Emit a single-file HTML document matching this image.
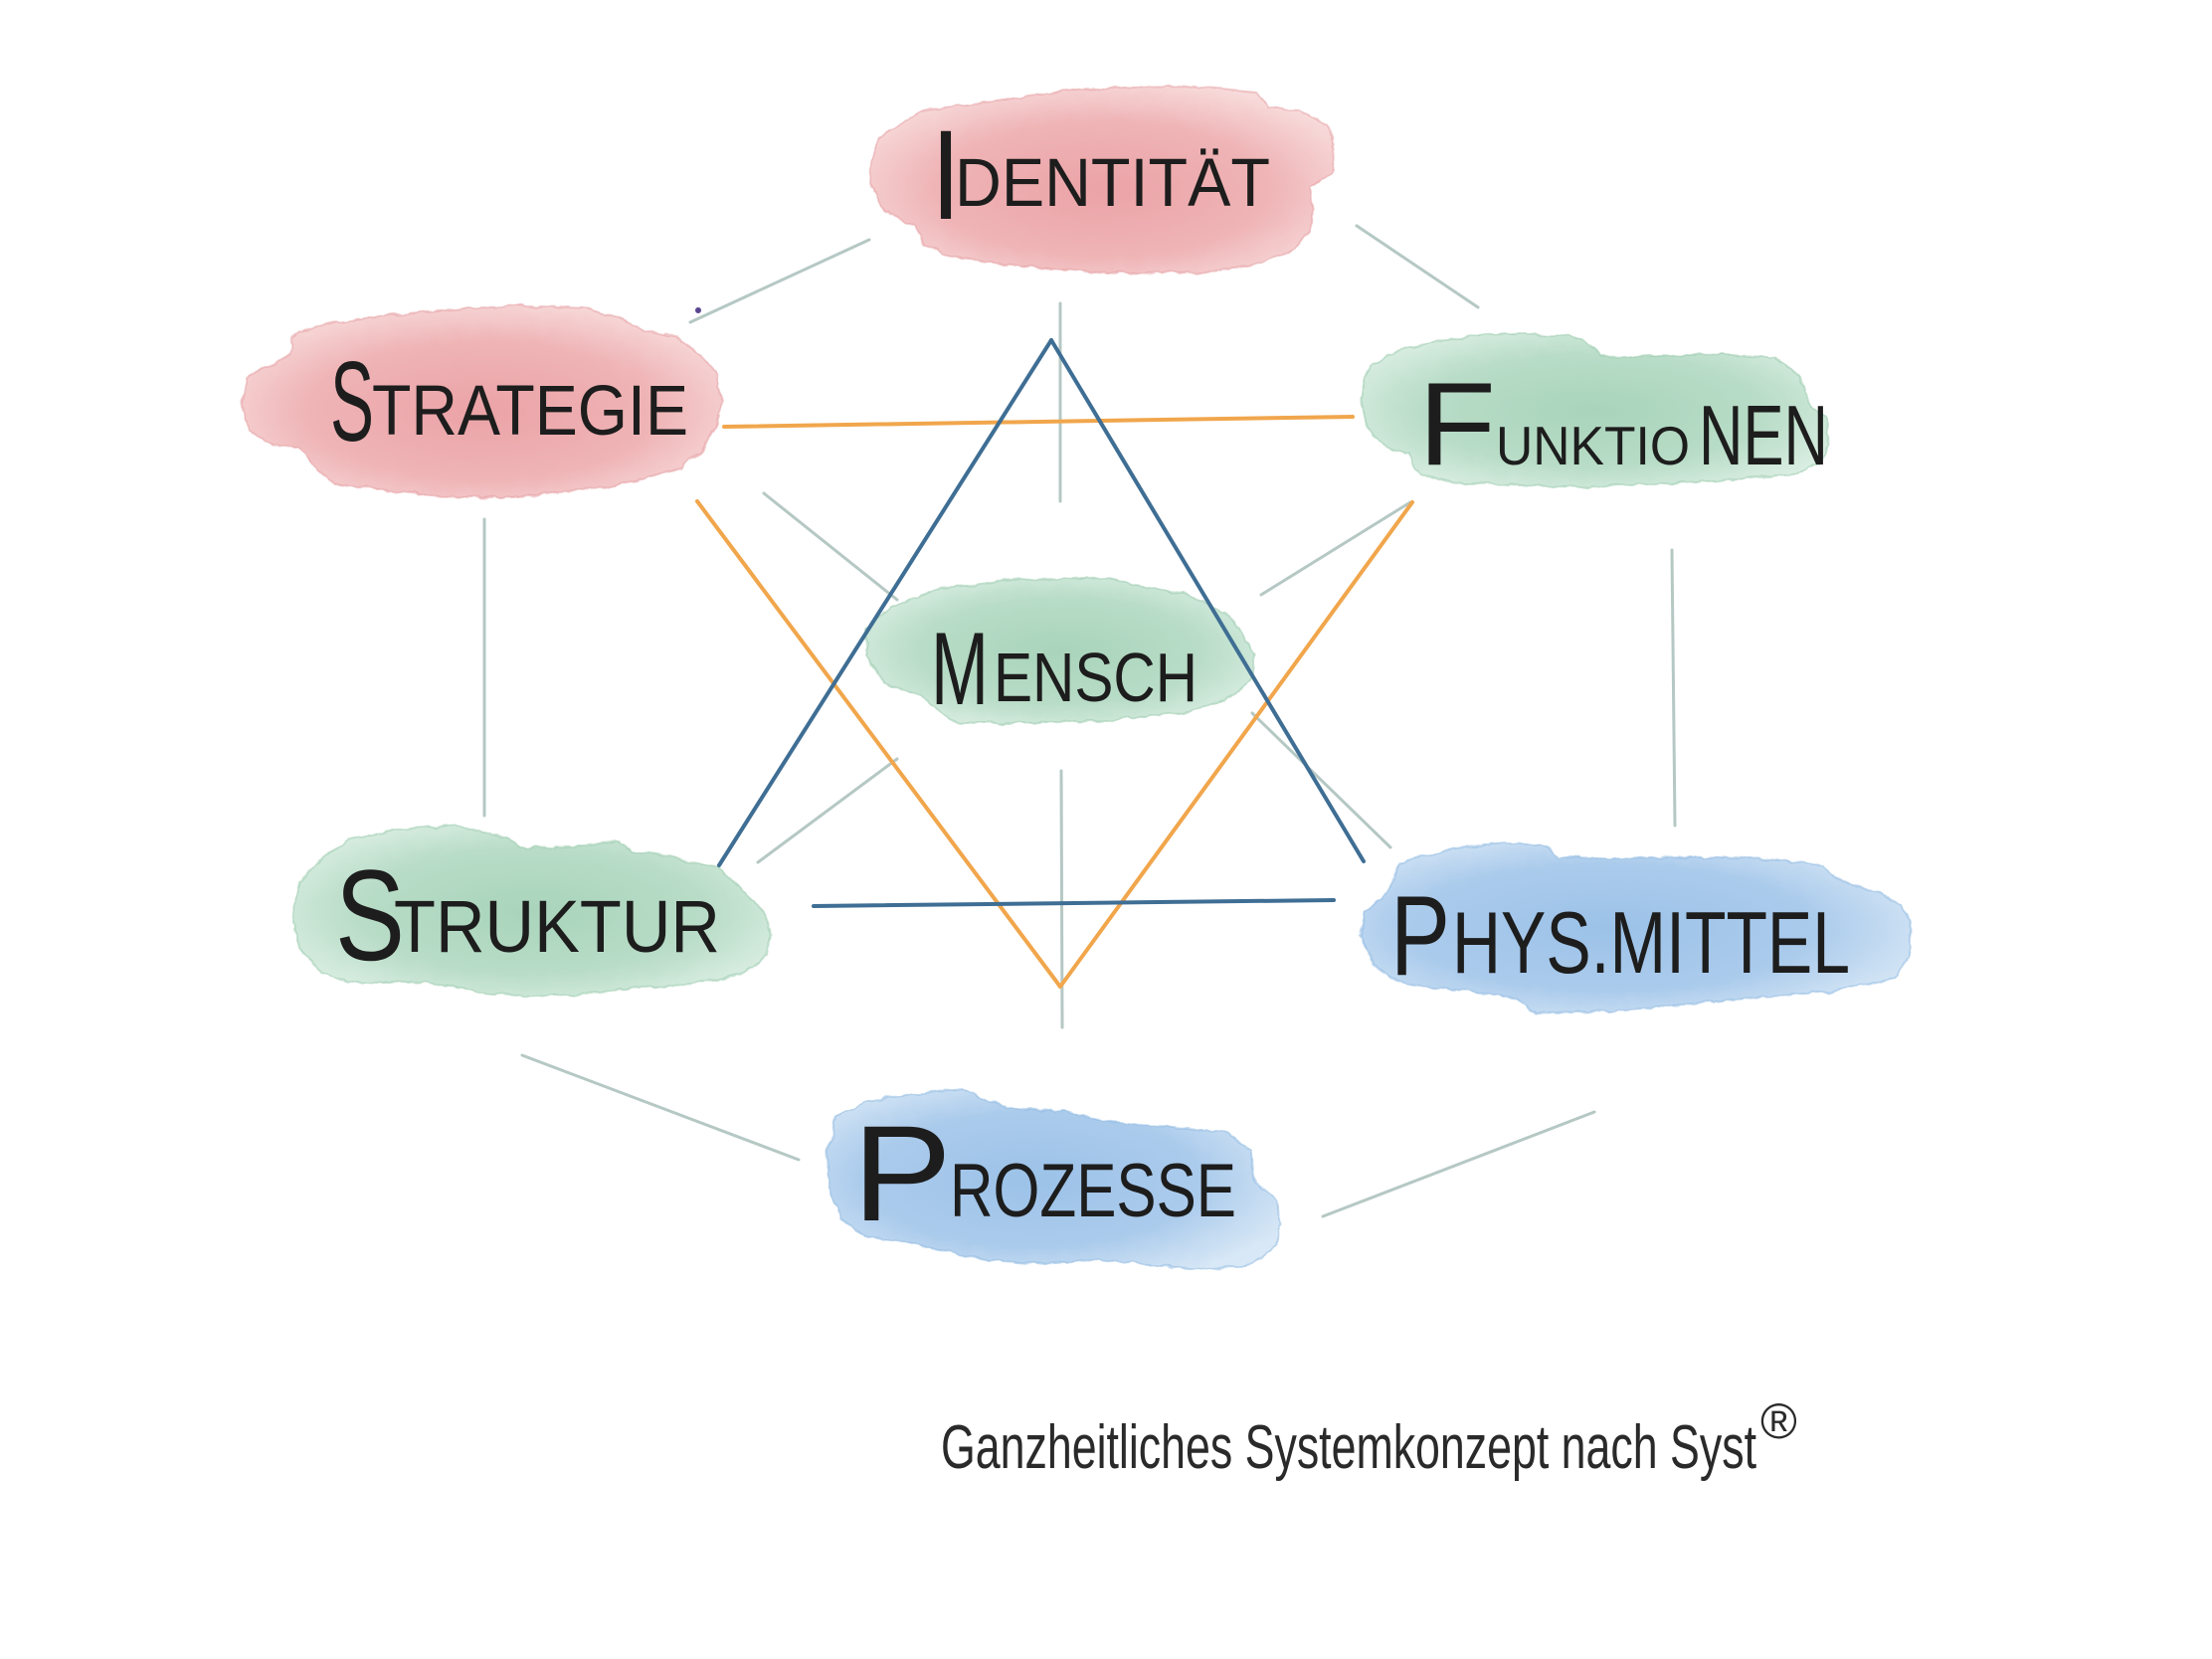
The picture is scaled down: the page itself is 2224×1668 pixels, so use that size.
<!DOCTYPE html>
<html><head><meta charset="utf-8"><style>
html,body{margin:0;padding:0;background:#fff;}
svg{display:block;}
text{font-family:"Liberation Sans",sans-serif;fill:#1d1d1d;}
</style></head><body>
<svg width="2224" height="1668" viewBox="0 0 2224 1668" xmlns="http://www.w3.org/2000/svg">
<defs>
<filter id="rag" x="-5%" y="-10%" width="110%" height="120%">
<feTurbulence type="fractalNoise" baseFrequency="0.06" numOctaves="3" seed="4" result="n"/>
<feDisplacementMap in="SourceGraphic" in2="n" scale="7" xChannelSelector="R" yChannelSelector="G"/>
</filter>
<radialGradient id="gr" cx="50%" cy="55%" r="60%">
<stop offset="0" stop-color="#eba3a7"/><stop offset="0.6" stop-color="#efb4b6"/><stop offset="1" stop-color="#f8dcdc"/>
</radialGradient>
<radialGradient id="gg" cx="50%" cy="50%" r="60%">
<stop offset="0" stop-color="#a9d4bb"/><stop offset="0.6" stop-color="#b8dcc7"/><stop offset="1" stop-color="#dcefe4"/>
</radialGradient>
<radialGradient id="gb" cx="45%" cy="50%" r="62%">
<stop offset="0" stop-color="#9cc2e8"/><stop offset="0.6" stop-color="#abcbec"/><stop offset="1" stop-color="#d8e8f6"/>
</radialGradient>
</defs>

<!-- blobs -->
<g filter="url(#rag)" stroke-width="2" stroke-opacity="0.5">
<path fill="url(#gr)" stroke="#e39a9e" d="M885,137 L903,125 934,110 990,103 1060,93 1131,88 1201,87 1264,93 1274,107 1306,110 1334,127 1341,147 1338,173 1317,190 1320,207 1317,233 1303,250 1271,263 1222,273 1166,275 1096,273 1025,267 962,260 931,247 920,227 892,213 878,193 875,167 880,147 Z"/>
<path fill="url(#gr)" stroke="#e39a9e" d="M301,333 L344,323 391,317 480,310 534,307 587,310 626,320 648,333 676,337 705,357 721,377 726,403 719,430 705,453 684,470 641,483 587,493 516,500 451,500 391,493 337,487 316,470 301,450 273,447 251,433 242,407 248,380 266,370 291,357 294,340 Z"/>
<path fill="url(#gg)" stroke="#95c7aa" d="M1380,367 L1411,350 1461,340 1529,335 1590,340 1610,357 1664,358 1732,357 1786,360 1810,377 1820,407 1837,420 1838,447 1830,467 1800,477 1732,483 1664,487 1597,490 1529,488 1461,485 1428,477 1417,457 1394,450 1374,430 1368,403 1372,380 Z"/>
<path fill="url(#gg)" stroke="#95c7aa" d="M894,610 L945,592 1012,583 1114,581 1139,588 1190,597 1231,615 1246,632 1262,659 1257,686 1241,699 1190,717 1114,724 1037,728 966,728 945,717 925,699 889,686 871,659 871,632 Z"/>
<path fill="url(#gg)" stroke="#95c7aa" d="M316,870 L351,843 405,833 459,830 501,840 530,853 584,850 623,847 637,857 680,863 723,873 744,893 766,913 775,940 773,960 744,980 691,990 637,993 584,1000 530,1002 476,997 423,988 351,987 323,977 301,953 294,920 301,887 Z"/>
<path fill="url(#gb)" stroke="#8ab5e0" d="M1408,867 L1453,855 1508,847 1553,850 1567,862 1638,863 1693,862 1767,863 1834,870 1853,887 1890,897 1912,910 1923,937 1919,963 1904,983 1879,990 1841,997 1767,1003 1693,1010 1619,1017 1545,1018 1523,1003 1453,993 1404,987 1382,970 1367,940 1371,917 1390,903 1401,883 Z"/>
<path fill="url(#gb)" stroke="#8ab5e0" d="M840,1123 L870,1107 920,1100 970,1095 993,1107 1020,1115 1070,1117 1113,1127 1170,1133 1230,1137 1257,1157 1263,1190 1283,1207 1288,1230 1283,1253 1260,1270 1220,1277 1170,1273 1103,1267 1037,1270 993,1267 947,1257 903,1247 870,1243 847,1227 833,1193 832,1157 Z"/>
</g>

<!-- gray connectors -->
<g stroke="#b5c8c4" stroke-width="3" stroke-linecap="round" fill="none">
<line x1="694" y1="324" x2="874" y2="241"/>
<line x1="1364" y1="227" x2="1486" y2="309"/>
<line x1="487" y1="522" x2="487" y2="820"/>
<line x1="1681" y1="553" x2="1684" y2="830"/>
<line x1="525" y1="1061" x2="803" y2="1166"/>
<line x1="1330" y1="1223" x2="1603" y2="1118"/>
<line x1="1066" y1="305" x2="1066" y2="504"/>
<line x1="1067" y1="775" x2="1068" y2="1033"/>
<line x1="768" y1="496" x2="902" y2="603"/>
<line x1="1268" y1="598" x2="1418" y2="505"/>
<line x1="762" y1="867" x2="902" y2="763"/>
<line x1="1259" y1="717" x2="1398" y2="852"/>
</g>
<circle cx="702" cy="312" r="3" fill="#5a4590"/>

<!-- orange triangle -->
<g stroke="#f1a64c" stroke-width="4" stroke-linecap="round" fill="none">
<line x1="728" y1="429" x2="1360" y2="419"/>
<line x1="701" y1="504" x2="1066" y2="992"/>
<line x1="1066" y1="992" x2="1420" y2="505"/>
</g>
<!-- blue triangle -->
<g stroke="#3f6e94" stroke-width="4" stroke-linecap="round" fill="none">
<line x1="723" y1="870" x2="1057" y2="342"/>
<line x1="1057" y1="342" x2="1371" y2="866"/>
<line x1="818" y1="911" x2="1341" y2="905"/>
</g>

<!-- labels -->
<text x="936" y="220" font-size="128" textLength="30" lengthAdjust="spacingAndGlyphs">I</text>
<text x="960" y="207" font-size="69" textLength="317" lengthAdjust="spacingAndGlyphs">DENTITÄT</text>

<text x="332" y="443" font-size="114" textLength="44" lengthAdjust="spacingAndGlyphs">S</text>
<text x="374" y="437" font-size="71" textLength="318" lengthAdjust="spacingAndGlyphs">TRATEGIE</text>

<text x="1426" y="467" font-size="119" textLength="78" lengthAdjust="spacingAndGlyphs">F</text>
<text x="1504" y="467" font-size="55" textLength="195" lengthAdjust="spacingAndGlyphs">UNKTIO</text>
<text x="1708" y="467" font-size="85" textLength="130" lengthAdjust="spacingAndGlyphs">NEN</text>

<text x="936" y="708" font-size="104" textLength="58" lengthAdjust="spacingAndGlyphs">M</text>
<text x="999" y="705" font-size="70" textLength="205" lengthAdjust="spacingAndGlyphs">ENSCH</text>

<text x="337" y="965" font-size="130" textLength="70" lengthAdjust="spacingAndGlyphs">S</text>
<text x="396" y="957" font-size="74" textLength="328" lengthAdjust="spacingAndGlyphs">TRUKTUR</text>

<text x="1398" y="980" font-size="114" textLength="60" lengthAdjust="spacingAndGlyphs">P</text>
<text x="1460" y="978" font-size="88" textLength="400" lengthAdjust="spacingAndGlyphs">HYS.MITTEL</text>

<text x="857" y="1227" font-size="137" textLength="100" lengthAdjust="spacingAndGlyphs">P</text>
<text x="955" y="1223" font-size="76" textLength="288" lengthAdjust="spacingAndGlyphs">ROZESSE</text>

<!-- caption -->
<text x="946" y="1476" font-size="62" textLength="820" lengthAdjust="spacingAndGlyphs" style="fill:#2a2a2a">Ganzheitliches Systemkonzept nach Syst</text>
<text x="1770" y="1446" font-size="50" style="fill:#2a2a2a">®</text>
</svg>
</body></html>
